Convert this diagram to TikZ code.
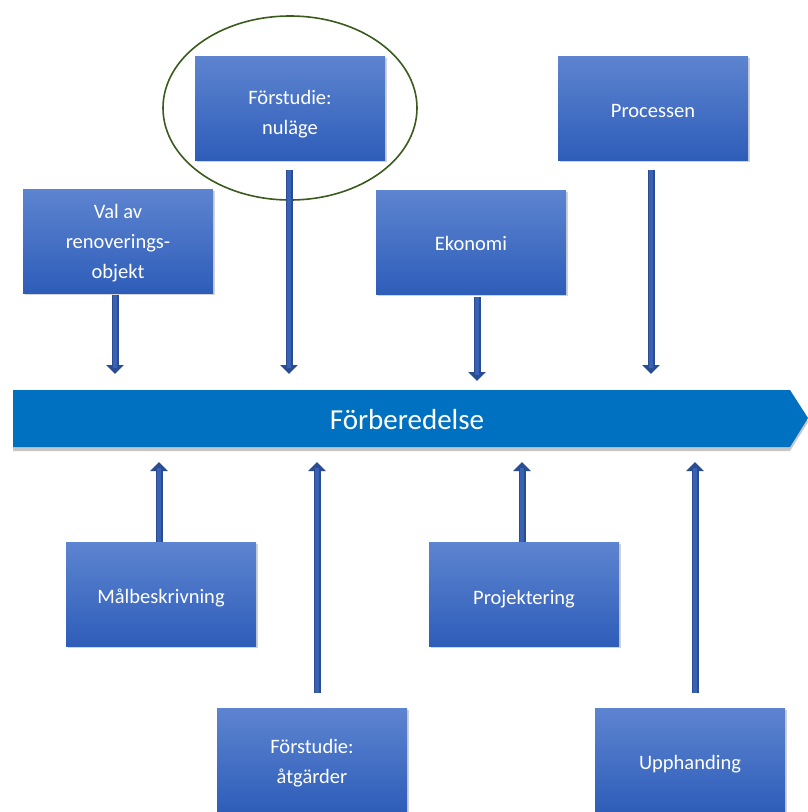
\documentclass[tikz,border=0pt]{standalone}
\usepackage{fontspec}
\setmainfont{Carlito}
\usetikzlibrary{shadows,arrows.meta}
\definecolor{boxtop}{HTML}{5D84D0}
\definecolor{boxbot}{HTML}{2E5DB9}
\definecolor{band}{HTML}{0070C0}
\definecolor{arrowfill}{HTML}{3A62B4}
\definecolor{arrowedge}{HTML}{2A4C92}
\definecolor{ringgreen}{HTML}{3B5A1E}
\tikzset{
  topic/.style={rectangle, minimum width=190pt, minimum height=104pt,
    top color=boxtop, bottom color=boxbot, draw=none,
    drop shadow={shadow xshift=2pt, shadow yshift=-2pt, opacity=.35}},
  topictext/.style={text=white, align=center,
    font=\fontsize{20.5}{30}\selectfont},
  feed/.style={draw=arrowedge, line width=7pt,
    -{Triangle[width=17pt,length=9pt]}},
  feedcore/.style={draw=arrowfill, line width=3.5pt, shorten >=6pt},
}
\begin{document}
\begin{tikzpicture}[x=1pt,y=-1pt]
\useasboundingbox (0,0) rectangle (808,812);

% main phase band
\path[fill=band, drop shadow={shadow xshift=0pt, shadow yshift=-4pt, opacity=.45}]
  (13,390) -- (790,390) -- (808,418) -- (790,447) -- (13,447) -- cycle;
\node[text=white, font=\fontsize{29}{32}\selectfont] (band) at (407,420) {Förberedelse};

% upper topics
\node[topic] (nulage) at (290,108) {};
\node[topic] (process) at (653,108) {};
\node[topic] (val) at (118,241) {};
\node[topic] (ekonomi) at (471,242) {};

% lower topics
\node[topic] (mal) at (161,594) {};
\node[topic] (proj) at (524,594) {};
\node[topic] (atgard) at (312,760) {};
\node[topic] (upph) at (690,760) {};

% box captions
\node[topictext] (tNulage) at ([yshift=-6pt]nulage.center) {Förstudie:\\nuläge};
\node[topictext] (tProcess) at ([yshift=-3pt]process.center) {Processen};
\node[topictext] (tVal) at ([yshift=-2pt]val.center) {Val av\\renoverings-\\objekt};
\node[topictext] (tEkonomi) at ([yshift=-1pt]ekonomi.center) {Ekonomi};
\node[topictext] (tMal) at ([yshift=-4pt]mal.center) {Målbeskrivning};
\node[topictext] (tProj) at ([yshift=-5pt]proj.center) {Projektering};
\node[topictext] (tAtgard) at ([yshift=-3pt]atgard.center) {Förstudie:\\åtgärder};
\node[topictext] (tUpph) at ([yshift=-4pt]upph.center) {Upphanding};

% highlight ring
\draw[ringgreen, line width=1.6pt] (290,108) ellipse [x radius=127, y radius=92];

% arrow ends near the band
\coordinate (eVal) at (115,374);
\coordinate (eNul) at (289,374);
\coordinate (eEko) at (477,381);
\coordinate (ePro) at (651,374);
\coordinate (eMal) at (159,462);
\coordinate (eAtg) at (317,462);
\coordinate (ePrj) at (522,462);
\coordinate (eUpp) at (695,462);

% arrow starts
\coordinate (sVal) at (115,295);
\coordinate (sNul) at (289,170);
\coordinate (sEko) at (477,297);
\coordinate (sPro) at (651,170);
\coordinate (sMal) at (159,542);
\coordinate (sAtg) at (317,693);
\coordinate (sPrj) at (522,542);
\coordinate (sUpp) at (695,693);

\foreach \s/\e in {sVal/eVal, sNul/eNul, sEko/eEko, sPro/ePro,
                    sMal/eMal, sAtg/eAtg, sPrj/ePrj, sUpp/eUpp} {
  \draw[feed] (\s) -- (\e);
  \draw[feedcore] (\s) -- (\e);
}
\end{tikzpicture}
\end{document}
